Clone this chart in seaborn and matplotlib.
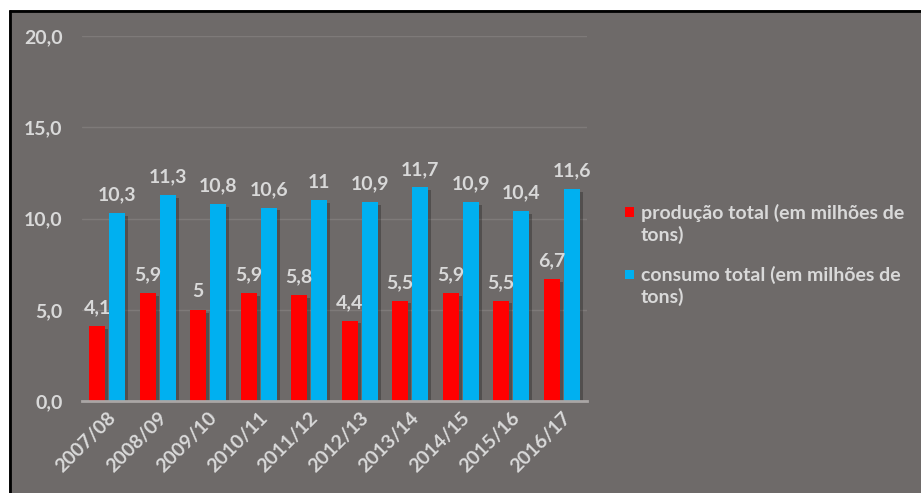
import matplotlib
matplotlib.use("Agg")
import matplotlib.pyplot as plt
import matplotlib.patheffects as pe
from matplotlib.patches import Rectangle
from matplotlib.lines import Line2D
from matplotlib.legend_handler import HandlerPatch
import seaborn as sns
import pandas as pd

seasons = ["2007/08", "2008/09", "2009/10", "2010/11", "2011/12",
           "2012/13", "2013/14", "2014/15", "2015/16", "2016/17"]
producao = [4.1, 5.9, 5.0, 5.9, 5.8, 4.4, 5.5, 5.9, 5.5, 6.7]
consumo = [10.3, 11.3, 10.8, 10.6, 11.0, 10.9, 11.7, 10.9, 10.4, 11.6]
series_names = ["produção total (em milhões de tons)",
                "consumo total (em milhões de tons)"]
series_labels = ["produção total (em milhões de\ntons)",
                 "consumo total (em milhões de\ntons)"]
colors = ["#ff0000", "#00b0f0"]
yticks = [0, 5, 10, 15, 20]

df = pd.DataFrame({
    "season": seasons * 2,
    "value": producao + consumo,
    "serie": [series_names[0]] * len(seasons) + [series_names[1]] * len(seasons),
})

sns.set_theme(style="white")
plt.rcParams["font.family"] = ["Lato", "DejaVu Sans"]
plt.rcParams["font.weight"] = "bold"

BG = "#6e6a69"
TXT = "#d9d9d9"
FS = 14
W, H = 921, 493
fig = plt.figure(figsize=(W / 100, H / 100), dpi=100, facecolor="white")
fig.patches.append(Rectangle((9 / W, 0), 1 - 9 / W, 1 - 10 / H, transform=fig.transFigure,
                             facecolor=BG, edgecolor="none", zorder=-10))
fig.lines.append(Line2D([9.5 / W, 9.5 / W], [0, 1 - 10.5 / H], transform=fig.transFigure,
                        color="black", lw=2))
fig.lines.append(Line2D([9.5 / W, 1], [1 - 10.5 / H, 1 - 10.5 / H], transform=fig.transFigure,
                        color="black", lw=2))

ax = fig.add_axes([82 / W, 1 - 401 / H, (587 - 82) / W, (401 - 36) / H])
ax.set_facecolor("none")

sns.barplot(data=df, x="season", y="value", hue="serie", palette=colors,
            width=0.8, gap=0.2, ax=ax, legend=False, saturation=1,
            linewidth=0, edgecolor="none")

for p in ax.patches:
    p.set_path_effects([pe.SimplePatchShadow(offset=(2, -2), shadow_rgbFace="black", alpha=0.25),
                        pe.Normal()])

for cont, vals in zip(ax.containers, [producao, consumo]):
    labs = [f"{v:g}".replace(".", ",") for v in vals]
    ax.bar_label(cont, labels=labs, padding=7, color=TXT, fontsize=FS, fontweight="bold")

ax.set_ylim(0, 20)
ax.set_xlim(-0.5, len(seasons) - 0.5)
ax.set_yticks(yticks)
ax.set_yticklabels([f"{v:.1f}".replace(".", ",") for v in yticks])
ax.yaxis.grid(True, color="#7e7a79", lw=1)
ax.set_axisbelow(True)
for s in ["top", "right", "left"]:
    ax.spines[s].set_visible(False)
ax.spines["bottom"].set_color("#aaa6a5")
ax.spines["bottom"].set_linewidth(2)
ax.tick_params(axis="y", length=0, pad=14, labelsize=FS, labelcolor=TXT)
ax.tick_params(axis="x", length=0, pad=6, labelsize=FS, labelcolor=TXT)
for t in ax.get_xticklabels():
    t.set_rotation(45)
    t.set_ha("right")
    t.set_rotation_mode("anchor")
    t.set_fontweight("bold")
for t in ax.get_yticklabels():
    t.set_fontweight("bold")
ax.set_xlabel("")
ax.set_ylabel("")


class TopSquare(HandlerPatch):
    def create_artists(self, legend, orig_handle, xdescent, ydescent, width, height,
                       fontsize, trans):
        size = 6.5
        cy = height / 2 - ydescent + 0.62 * fontsize
        r = Rectangle((-xdescent + width - size, cy - size / 2), size, size,
                      facecolor=orig_handle.get_facecolor(), edgecolor="none",
                      transform=trans)
        return [r]


handles = [Rectangle((0, 0), 1, 1, facecolor=c) for c in colors]
leg = fig.legend(handles, series_labels, loc="upper left",
                 bbox_to_anchor=(605 / W, 1 - 186 / H), frameon=False,
                 prop={"size": FS, "weight": "bold"}, labelcolor=TXT,
                 handlelength=0.6, handleheight=0.7, handletextpad=0.35, labelspacing=1.1,
                 handler_map={Rectangle: TopSquare()})
for t in leg.get_texts():
    t.set_linespacing(1.3)

fig.savefig("out.png", dpi=100, facecolor="white")
